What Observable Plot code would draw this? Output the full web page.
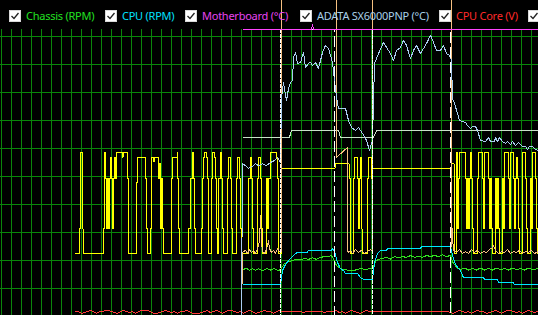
<!DOCTYPE html>
<html><head><meta charset="utf-8">
<script src="https://cdn.jsdelivr.net/npm/d3@7"></script>
<script src="https://cdn.jsdelivr.net/npm/@observablehq/plot@0.6"></script>
<style>
html,body{margin:0;padding:0;background:#000;overflow:hidden;}
#wrap{position:relative;width:538px;height:315px;background:#000;}
#legend{position:absolute;left:9px;top:8px;display:flex;align-items:center;font-family:"Noto Sans",sans-serif;font-size:11px;letter-spacing:-0.25px;line-height:15px;white-space:nowrap;}
.item{display:flex;align-items:center;flex:none;overflow:visible;}
.box{width:10px;height:10px;border:1px solid #d8d8d8;background:#fff;margin-right:5px;position:relative;flex:none;}
.box svg{position:absolute;left:1px;top:1px;}
#chart svg path{shape-rendering:crispEdges;}
</style></head>
<body><div id="wrap"><div id="chart"></div><div id="legend"></div></div>
<script>
// legend entries
const legendLabels = ["Chassis (RPM)", "CPU (RPM)", "Motherboard (°C)", "ADATA SX6000PNP (°C)", "CPU Core (V)", ""];
const legendColors = ["#22e022", "#00e0ff", "#e844f0", "#a8d0e8", "#ff2a2a", "#ffffff"];
const legendWidths = [96, 80, 115, 139, 89, 20];

// grid
const xGrid = d3.range(1, 538, 10);
const yGrid = [0, 10, 20, 30, 40, 50, 60, 70, 80, 90, 100];

// series values (percent of chart height), t = sample time
const yellowPts = [[75,22.5],[79,22.5],[79,31.4],[79.5,49.3],[80,58.6],[81,58.6],[81.5,49.3],[82,31.4],[82.5,22.5],
[102,22.5],[103,31.4],[103.5,49.3],[104,58.6],[105,49.3],[106,31.4],[107,49.3],[108,31.4],[109,49.3],[110,56.8],[111,49.3],[112,31.4],[113,49.3],[114,56.8],[115,49.3],[116,58.6],
[120.5,58.6],[121.5,56.8],[122.5,58.6],[126,58.6],[126.5,49.3],[127.5,31.4],[128,22.5],
[135,22.5],[135.5,31.4],[136,47.9],[137,56.8],[144,56.8],[144.5,49.3],[146,31.4],[147,22.5],[149,22.5],[149.5,31.4],[150.5,49.3],[151,56.8],[153,55.5],[154,56.8],[157,56.8],[157.5,49.3],[159,54.6],[160,31.4],[161,49.3],[162,31.4],[163,22.5],
[170,22.5],[171,49.3],[172,56.8],[176,56.8],[176.5,58.6],[177,49.3],[178,31.4],[179,22.5],
[187,22.5],[187.5,31.4],[190,49.3],[192,58.6],[193,49.3],[194,31.4],[195,22.5],[200,22.5],
[201,31.4],[202,49.3],[203,56.8],[204,58.6],[206,56.8],[207,49.3],[207.5,31.4],[208,22.5],[210,22.5],[210.5,49.3],[212,58.6],[213,58.6],[214,56.8],[215,49.3],[216,31.4],[217,22.5],[218,49.3],[220,58.6],[221,49.3],[222,31.4],[223,22.5],[226,22.5],[227,49.3],[228,56.8],[230,49.3],[231,31.4],[232,22.5],[235,22.5],[236,49.3],[237,56.8],[239,49.3],[240,31.4],[241,22.5],[247,22.5],[248,49.3],[250,56.8],[251,49.3],[252,31.4],[253,22.5],[256,22.5],[257,49.3],[258,56.8],[260,49.3],[261,31.4],[262,22.5],[265,22.5],[266,49.3],[267,31.4],[268,49.3],[270,58.6],[275,58.6],[276,56.8],[277,49.3],[277.5,31.4],[278,22.5],[280,22.5],[280.5,52.9],
[334,52.9],[334.5,54.6],[348,54.6],
[348.5,49.3],[349.5,22.5],[352,22.5],[353,49.3],[354,56.8],[356,56.8],[357,49.3],[358,31.4],[359,49.3],[360,56.8],[361,31.4],[361.5,22.5],[366,22.5],[367,49.3],[368,56.8],[370,56.8],[371,49.3],[372,52.9],
[450,52.9],[450.5,54.6],[453,54.6],
[453.5,22.5],[455,22.5],[455.5,58.6],[456.5,49.3],[457,31.4],[458,49.3],[459,58.6],[464,58.6],[464.5,49.3],[466,31.4],[467,49.3],[468,31.4],[469,49.3],[470,58.6],[471,49.3],[472,31.4],[473,22.5],[476,22.5],[477,49.3],[478,58.6],[481,58.6],[482,49.3],[483,31.4],[484,58.6],[487,58.6],[488,49.3],[489,31.4],[490,49.3],[491,31.4],[492,22.5],[494,22.5],[495,49.3],[496,31.4],[497,49.3],[498,31.4],[499,22.5],[501,22.5],[502,49.3],[503,31.4],[504,58.6],[507,58.6],[508,49.3],[509,31.4],[510,58.6],[512,58.6],[513,49.3],[514,31.4],[515,49.3],[516,56.8],[517,49.3],[518,31.4],[519,22.5],[521,22.5],[522,58.6],[524,58.6],[525,49.3],[526,31.4],[527,22.5],[529,22.5],[530,49.3],[531,31.4],[532,58.6],[534,58.6],[535,49.3],[536,31.4],[537,22.5],[538,22.5]];

const redStart = 75, redStep = 3;
const redValues = [1.8,1.8,1.1,1.4,1.8,2.1,1.8,1.1,1.8,1.8,
2.1,2.1,1.8,1.4,1.1,1.8,2.1,1.8,1.4,1.8,
1.1,1.8,2.1,2.1,2.1,1.8,1.1,1.1,1.4,1.8,
2.1,1.8,1.4,1.8,1.1,1.8,1.8,2.1,1.8,1.1,
1.1,1.1,1.4,1.8,2.1,1.4,1.8,2.1,1.8,1.1,
1.8,2.1,2.1,1.8,1.4,1.8,1.1,1.8,2.1,1.8,
1.1,1.4,1.8,2.1,1.8,1.8,1.1,1.8,2.1,1.8,
1.8,1.8,1.8,1.8,1.8,1.8,1.4,1.8,1.8,1.8,
1.8,1.8,1.8,1.4,1.8,1.8,1.8,2.1,1.4,1.8,
1.1,1.8,2.1,1.8,1.4,1.1,1.8,2.1,1.8,1.8,
1.8,1.8,1.8,1.8,1.8,1.8,1.8,1.8,1.8,1.8,
1.8,1.8,1.8,1.8,1.8,1.8,1.8,1.8,1.8,1.8,
1.8,1.8,1.8,1.8,1.8,1.4,1.1,1.8,2.1,1.8,
1.4,1.8,1.1,1.8,2.1,1.8,1.8,1.1,1.4,1.8,
2.1,1.8,1.1,1.8,2.1,2.1,1.8,1.4,1.8,1.1,
1.8,2.1,1.8,1.4,1.8];

const greenPts = [[243,16.8],[246,17.3],[249,16.4],[252,17.1],[255,16.5],[258,17.1],[262,16.4],[266,17.1],[270,16.6],[274,17.1],[278,16.4],[280,16.8],[284,18.9],[288,19.6],[292,20.0],[296,20.5],[300,20.2],[304,20.7],[308,20.4],[312,20.9],[316,20.4],[320,21.1],[324,21.4],[328,21.4],[331,21.8],[333,20.5],[336,18.2],[340,17.1],[344,16.8],[350,16.4],[355,16.6],[360,17.1],[365,16.8],[370,17.1],[372,17.3],[375,19.6],[378,20.4],[382,20.7],[386,21.1],[390,20.5],[394,21.4],[398,20.9],[402,21.4],[406,21.1],[410,21.8],[414,21.1],[418,21.6],[422,21.1],[426,21.8],[430,21.4],[434,21.8],[438,21.4],[442,22.0],[446,21.4],[450,21.8],[452,19.6],[456,17.5],[460,16.8],[464,17.3],[468,16.6],[472,17.1],[476,16.6],[480,17.3],[484,16.6],[488,17.1],[492,16.6],[496,17.3],[500,16.8],[504,17.1],[508,16.6],[512,17.3],[516,16.8],[520,17.1],[524,16.6],[528,17.3],[532,16.8],[538,17.1]];

const cyanPts = [[243,11.4],[280,11.4],[282,16.4],[285,18.6],[290,20.7],[294,22.1],[297,22.9],[307,22.9],[308,23.6],[331,23.6],[332,24.3],[334,23.2],[337,19.3],[340,17.1],[343,16.4],[345,15.4],[357,15.4],[360,13.9],[363,13.2],[372,13.2],[374,19.3],[377,22.5],[380,23.6],[386,23.6],[387,24.3],[420,24.3],[421,25.0],[450,25.0],[452,21.8],[455,18.6],[458,17.1],[460,16.4],[463,13.9],[483,13.9],[484,13.2],[497,13.2],[498,12.1],[513,12.1],[514,11.4],[538,11.4]];

const bluePts = [[241,0],[242,54.6],[245,53.9],[248,52.9],[252,53.6],[255,54.6],[258,53.9],[262,54.6],[266,53.9],[270,55.0],[274,55.7],[277,56.8],[280,55.0],[281,78.2],[283,83.6],[285,78.9],[286,77.1],[288,81.4],[290,83.6],[292,84.3],[293,92.5],[295,94.3],[297,90.4],[300,90.7],[303,94.3],[305,88.9],[308,90.4],[310,90.7],[312,89.6],[315,90.7],[318,88.6],[320,91.4],[322,94.3],[325,96.8],[328,95.7],[330,93.2],[332,90.7],[334,84.3],[336,78.2],[338,74.3],[345,74.3],[348,70.0],[351,67.5],[355,66.4],[358,67.5],[362,65.4],[366,62.9],[369,59.3],[372,62.9],[374,90.4],[378,93.9],[383,97.9],[386,96.1],[390,93.9],[393,91.4],[396,95.0],[400,96.1],[403,98.6],[406,96.8],[410,92.1],[413,95.0],[416,96.8],[420,93.9],[423,95.7],[426,97.5],[430,100.4],[433,97.9],[436,95.0],[440,95.0],[443,96.8],[446,93.9],[449,93.2],[451,91.4],[452,77.9],[454,76.1],[457,72.5],[459,70.0],[462,69.6],[465,69.3],[467,68.2],[470,67.1],[472,67.9],[475,67.9],[477,66.4],[480,62.9],[485,62.5],[488,63.9],[490,62.5],[494,62.5],[495,63.9],[497,62.5],[499,63.9],[502,62.5],[505,61.8],[507,62.5],[510,61.4],[512,62.5],[515,61.1],[518,62.1],[522,60.7],[525,60.7],[527,59.6],[529,60.7],[532,60.7],[535,59.6],[538,59.3]];

const grayPts = [[243,64.0],[289,64.0],[291,66.4],[338,66.4],[340,64.0],[373,64.0],[376,66.4],[538,66.4]];

const peachPts = [[241,0],[242,22.9],[245,23.6],[247,22.5],[249,23.9],[251,22.9],[253,23.6],[255,22.5],[257,24.3],[259,26.8],[260,36.1],[261,26.8],[262,23.2],[264,22.5],[266,23.9],[268,27.1],[269,24.3],[271,22.9],[273,23.6],[275,22.5],[277,24.3],[279,23.2],[281,23.2],[281,115],[335.5,115],[336,56.8],[347,60.4],[347.5,22.9],[350,23.6],[352,22.5],[355,23.9],[358,22.9],[361,23.6],[364,22.5],[367,23.2],[370,23.9],[372,23.2],[372.5,115],[450.5,115],[450.5,25],[451,35.7],[452,28.2],[453,23.6],[456,22.9],[459,23.9],[462,22.5],[465,23.2],[468,22.5],[471,23.9],[474,22.9],[477,23.6],[480,22.5],[483,23.2],[486,22.9],[489,23.9],[492,24.6],[493,25.4],[495,23.6],[498,22.5],[501,23.2],[504,22.9],[507,23.9],[510,22.5],[513,23.2],[516,22.9],[519,23.6],[522,22.5],[525,23.2],[528,22.9],[531,23.6],[534,22.5],[538,23.2]];

const whiteAPts = [[243,-5],[280,-5],[280,102.4],[372,102.4],[372,-5],[538,-5]];
const whiteBPts = [[243,-5],[334,-5],[334,102.4],[450,102.4],[450,-5],[538,-5]];

const magentaPts = [[243,102.4],[311,102.4],[312,104.3],[313,102.4],[538,102.4]];

const toRows = pts => pts.map(([t, v]) => ({t, v}));
const redRows = redValues.map((v, i) => ({t: redStart + i * redStep, v}));

const lineOpts = (color, extra = {}) => ({x: "t", y: "v", stroke: color, strokeWidth: 1, ...extra});

const chart = Plot.plot({
  width: 538, height: 315,
  marginTop: 29, marginBottom: 0, marginLeft: 0, marginRight: 0,
  style: {background: "#000", overflow: "hidden"},
  x: {domain: [0, 538], range: [0, 538], axis: null},
  y: {domain: [0, 100], range: [316, 36], axis: null},
  marks: [
    Plot.ruleY(yGrid, {stroke: "#0a850a", strokeWidth: 1}),
    Plot.ruleX(xGrid, {stroke: "#0a850a", strokeWidth: 1}),
    Plot.line(redRows, lineOpts("#ff3a3a")),
    Plot.line(toRows(greenPts), lineOpts("#33e022")),
    Plot.line(toRows(cyanPts), lineOpts("#00e6ff")),
    Plot.line(toRows(grayPts), lineOpts("#c8e0c8")),
    Plot.line(toRows(yellowPts), lineOpts("#ffff00", {curve: "step-after"})),
    Plot.line(toRows(peachPts), lineOpts("#f5c080")),
    Plot.line(toRows(bluePts), lineOpts("#a8cdf0")),
    Plot.line(toRows(whiteAPts), lineOpts("#ffffff", {strokeDasharray: "3,2"})),
    Plot.line(toRows(whiteBPts), lineOpts("#ffffff", {strokeDasharray: "10,5"})),
    Plot.line(toRows(magentaPts), lineOpts("#ff44ff"))
  ]
});
document.getElementById("chart").appendChild(chart);

const legend = document.getElementById("legend");
legendLabels.forEach((label, i) => {
  const item = document.createElement("div");
  item.className = "item";
  item.style.width = legendWidths[i] + "px";
  item.innerHTML = `<div class="box"><svg width="8" height="8" viewBox="0 0 8 8"><path d="M0.5 4 L3 6.5 L7.5 1" stroke="#222" stroke-width="1.3" fill="none"/></svg></div><span style="color:${legendColors[i]}">${label}</span>`;
  legend.appendChild(item);
});
</script></body></html>
